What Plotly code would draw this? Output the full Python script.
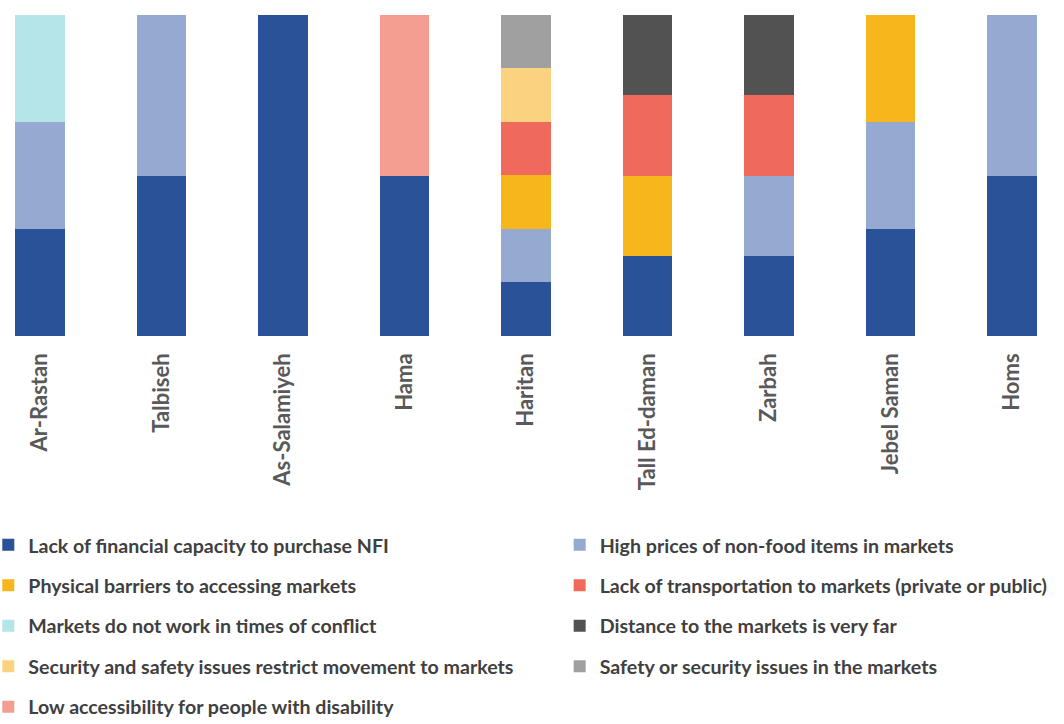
import plotly.graph_objects as go

# Districts along the x axis
districts = ["Ar-Rastan", "Talbiseh", "As-Salamiyeh", "Hama", "Haritan",
             "Tall Ed-daman", "Zarbah", "Jebel Saman", "Homs"]

# Share of respondents (%) citing each barrier, per district
financial    = [33.3, 50, 100, 50, 16.7, 25, 25, 33.3, 50]
high_prices  = [33.3, 50, 0, 0, 16.7, 0, 25, 33.3, 50]
physical     = [0, 0, 0, 0, 16.7, 25, 0, 33.3, 0]
transport    = [0, 0, 0, 0, 16.7, 25, 25, 0, 0]
conflict     = [33.3, 0, 0, 0, 0, 0, 0, 0, 0]
distance     = [0, 0, 0, 0, 0, 25, 25, 0, 0]
movement     = [0, 0, 0, 0, 16.7, 0, 0, 0, 0]
market_safety = [0, 0, 0, 0, 16.7, 0, 0, 0, 0]
disability   = [0, 0, 0, 50, 0, 0, 0, 0, 0]

series = [
    ("Lack of financial capacity to purchase NFI", financial, "#2A5298", "legend"),
    ("High prices of non-food items in markets", high_prices, "#95A9D1", "legend2"),
    ("Physical barriers to accessing markets", physical, "#F7B61B", "legend"),
    ("Lack of transportation to markets (private or public)", transport, "#EF6A5D", "legend2"),
    ("Markets do not work in times of conflict", conflict, "#B5E4E9", "legend"),
    ("Distance to the markets is very far", distance, "#525252", "legend2"),
    ("Security and safety issues restrict movement to markets", movement, "#FBD380", "legend"),
    ("Safety or security issues in the markets", market_safety, "#A0A0A0", "legend2"),
    ("Low accessibility for people with disability", disability, "#F49E92", "legend"),
]

fig = go.Figure()
for i, (name, vals, color, leg) in enumerate(series):
    fig.add_trace(go.Bar(
        x=districts, y=vals, name=name, legend=leg, legendgroup=f"g{i}",
        marker=dict(color=color, line=dict(width=0)),
    ))

legend_font = dict(family="Lato", size=19.6, color="#404040", weight="bold")

fig.update_layout(
    width=1064, height=724,
    barmode="stack", bargap=0.59,
    plot_bgcolor="white", paper_bgcolor="white",
    margin=dict(l=0, r=0, t=15, b=388, autoexpand=False),
    xaxis=dict(
        range=[-0.329, 8.428], tickangle=-90, showline=False, showgrid=False,
        ticks="", ticklabelstandoff=12, automargin=False,
        tickfont=dict(family="Lato", size=22, color="#595959", weight="bold"),
    ),
    yaxis=dict(range=[0, 100], visible=False),
    legend=dict(x=-0.011, xanchor="left", yref="container", y=0.274, yanchor="top",
                orientation="v", tracegroupgap=12, font=legend_font,
                bgcolor="rgba(0,0,0,0)"),
    legend2=dict(x=0.526, xanchor="left", yref="container", y=0.274, yanchor="top",
                 orientation="v", tracegroupgap=12, font=legend_font,
                 bgcolor="rgba(0,0,0,0)"),
)

fig.write_html("out.html")
